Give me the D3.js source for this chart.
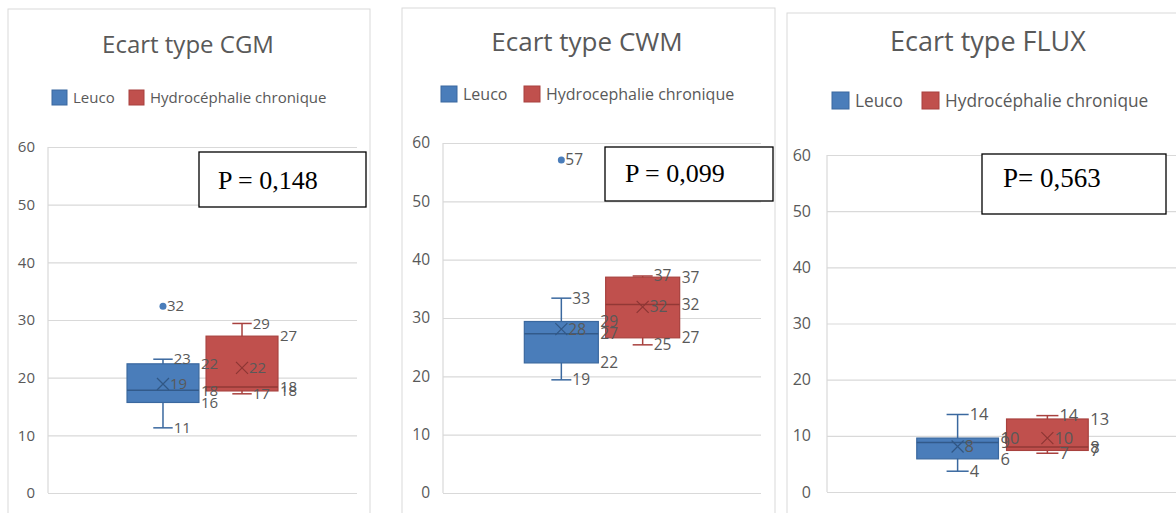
<!DOCTYPE html>
<html>
<head>
<meta charset="utf-8">
<script src="https://cdn.jsdelivr.net/npm/d3@7"></script>
<style>
  body { margin: 0; background: #fff; }
  svg { display: block; font-family: "Open Sans", sans-serif; }
</style>
</head>
<body>
<div id="chart"></div>
<script>
// ---- data ----
const series = ["Leuco", "Hydrocéphalie chronique"];
const titles = ["Ecart type CGM", "Ecart type CWM", "Ecart type FLUX"];
const legendNames = [
  ["Leuco", "Hydrocéphalie chronique"],
  ["Leuco", "Hydrocephalie chronique"],
  ["Leuco", "Hydrocéphalie chronique"]
];
const pLabels = ["P = 0,148", "P = 0,099", "P= 0,563"];
const yTicks = [0, 10, 20, 30, 40, 50, 60];

// five-number summaries [min, q1, median, q3, max] per series
const cgmFive = [[11.3, 15.7, 17.8, 22.4, 23.2], [17.2, 17.7, 18.4, 27.2, 29.4]];
const cgmMean = [18.9, 21.7];
const cgmOutliers = [[32.4], []];

const cwmFive = [[19.4, 22.3, 27.3, 29.4, 33.4], [25.4, 26.6, 32.3, 37.0, 37.2]];
const cwmMean = [28.1, 31.9];
const cwmOutliers = [[57.1], []];

const fluxFive = [[3.7, 5.9, 8.8, 9.6, 13.8], [6.9, 7.4, 8.0, 13.0, 13.6]];
const fluxMean = [8.1, 9.6];
const fluxOutliers = [[], []];

// ---- layout of the three pasted charts ----
const width = 1176, height = 513;
const layouts = [
  { frame: [8, 9, 362], plot: [48, 357, 147, 493], titleX: 188, titleY: 53, titleSize: 24,
    legY: 90, sq: 15, legX: [52, 129], legSize: 15, tickSize: 15, tickPad: 13, labSize: 15,
    pbox: [199, 152, 167, 55], pText: [218, 189], pSize: 26 },
  { frame: [402, 8, 373], plot: [443, 761, 143, 493], titleX: 587, titleY: 51, titleSize: 26,
    legY: 86, sq: 16, legX: [441, 524], legSize: 16, tickSize: 15.5, tickPad: 13, labSize: 15.5,
    pbox: [605, 147, 168, 54], pText: [625, 182], pSize: 26 },
  { frame: [787, 13, 420], plot: [827, 1178, 155, 492], titleX: 988, titleY: 51, titleSize: 27,
    legY: 92, sq: 17, legX: [832, 922], legSize: 17.3, tickSize: 16, tickPad: 16, labSize: 16.5,
    pbox: [982, 154, 184, 60], pText: [1003, 187], pSize: 27 }
];

const panels = [
  { five: cgmFive, mean: cgmMean, out: cgmOutliers },
  { five: cwmFive, mean: cwmMean, out: cwmOutliers },
  { five: fluxFive, mean: fluxMean, out: fluxOutliers }
];

const fills = ["#4a7dba", "#c0504d"];
const strokes = ["#3a689f", "#a8413e"];
const grey = "#595959";
const gridGrey = "#d9d9d9";

const svg = d3.select("#chart").append("svg")
    .attr("width", width)
    .attr("height", height);

panels.forEach((p, k) => {
  const L = layouts[k];
  const g = svg.append("g");
  const [left, right, top, bottom] = L.plot;

  g.append("rect")
    .attr("x", L.frame[0]).attr("y", L.frame[1])
    .attr("width", L.frame[2]).attr("height", 600)
    .attr("fill", "#fff")
    .attr("stroke", gridGrey);

  // title
  g.append("text")
    .attr("x", L.titleX).attr("y", L.titleY)
    .attr("text-anchor", "middle")
    .style("font-size", L.titleSize + "px")
    .attr("fill", grey)
    .text(titles[k]);

  // legend
  legendNames[k].forEach((name, i) => {
    g.append("rect")
      .attr("x", L.legX[i]).attr("y", L.legY)
      .attr("width", L.sq).attr("height", L.sq)
      .attr("fill", fills[i])
      .attr("stroke", strokes[i]);
    g.append("text")
      .attr("x", L.legX[i] + L.sq + 6)
      .attr("y", L.legY + L.sq / 2)
      .attr("dy", "0.35em")
      .style("font-size", L.legSize + "px")
      .attr("fill", grey)
      .text(name);
  });

  const y = d3.scaleLinear().domain([0, 60]).range([bottom, top]);
  const x = d3.scaleBand().domain(series).range([left, right])
      .paddingInner(0.09).paddingOuter(1);

  const yAxis = d3.axisLeft(y)
      .tickValues(yTicks)
      .tickSize(-(right - left))
      .tickPadding(L.tickPad);

  const ax = g.append("g")
      .attr("transform", `translate(${left},0)`)
      .call(yAxis);
  ax.select(".domain").remove();
  ax.selectAll("line").attr("stroke", gridGrey).attr("stroke-width", 1.2);
  ax.selectAll("text")
      .attr("fill", grey)
      .style("font-size", L.tickSize + "px")
      .style("font-family", "'Open Sans', sans-serif");

  g.append("line")
    .attr("x1", left).attr("x2", left)
    .attr("y1", y(60)).attr("y2", y(0))
    .attr("stroke", gridGrey).attr("stroke-width", 1.2);

  // p-value box
  g.append("rect")
    .attr("x", L.pbox[0]).attr("y", L.pbox[1])
    .attr("width", L.pbox[2]).attr("height", L.pbox[3])
    .attr("fill", "#fff")
    .attr("stroke", "#000")
    .attr("stroke-width", 1.3);
  g.append("text")
    .attr("x", L.pText[0]).attr("y", L.pText[1])
    .style("font-family", "'Liberation Serif', 'Times New Roman', serif")
    .style("font-size", L.pSize + "px")
    .attr("fill", "#000")
    .text(pLabels[k]);

  const boxLayer = g.append("g");
  const labelLayer = g.append("g");

  // boxes
  series.forEach((s, i) => {
    const [mn, q1, med, q3, mx] = p.five[i];
    const bx = x(s), bw = x.bandwidth(), cx = bx + bw / 2;
    const cap = bw * 0.27;
    const col = strokes[i];
    const bg = boxLayer.append("g");

    bg.append("line")
      .attr("x1", cx).attr("x2", cx)
      .attr("y1", y(mn)).attr("y2", y(mx))
      .attr("stroke", col).attr("stroke-width", 1.5);
    [mn, mx].forEach(v => {
      bg.append("line")
        .attr("x1", cx - cap / 2).attr("x2", cx + cap / 2)
        .attr("y1", y(v)).attr("y2", y(v))
        .attr("stroke", col).attr("stroke-width", 1.5);
    });
    bg.append("rect")
      .attr("x", bx).attr("y", y(q3))
      .attr("width", bw).attr("height", y(q1) - y(q3))
      .attr("fill", fills[i])
      .attr("stroke", col).attr("stroke-width", 1.2);
    bg.append("line")
      .attr("x1", bx).attr("x2", bx + bw)
      .attr("y1", y(med)).attr("y2", y(med))
      .attr("stroke", d3.color(col).darker(0.4)).attr("stroke-width", 1.5);

    // mean marker
    const m = y(p.mean[i]), h = 6;
    bg.append("path")
      .attr("d", `M${cx - h},${m - h}L${cx + h},${m + h}M${cx - h},${m + h}L${cx + h},${m - h}`)
      .attr("stroke", d3.color(col).darker(0.5))
      .attr("stroke-width", 1.2)
      .attr("fill", "none");

    p.out[i].forEach(v => {
      bg.append("circle")
        .attr("cx", cx).attr("cy", y(v)).attr("r", 3.5)
        .attr("fill", fills[i]);
    });

    // data labels, drawn above every box
    const labels = [
      { v: mn, x: cx + cap / 2 + 1 },
      { v: mx, x: cx + cap / 2 + 1 },
      { v: q1, x: bx + bw + 2 },
      { v: q3, x: bx + bw + 2 },
      { v: med, x: bx + bw + 2 },
      { v: p.mean[i], x: cx + h + 1 }
    ].concat(p.out[i].map(v => ({ v: v, x: cx + 4 })));

    labelLayer.append("g").selectAll("text")
      .data(labels)
      .enter()
      .append("text")
      .attr("x", d => d.x)
      .attr("y", d => y(d.v))
      .attr("dy", "0.35em")
      .style("font-size", L.labSize + "px")
      .attr("fill", grey)
      .text(d => d3.format(".0f")(d.v));
  });
});
</script>
</body>
</html>
